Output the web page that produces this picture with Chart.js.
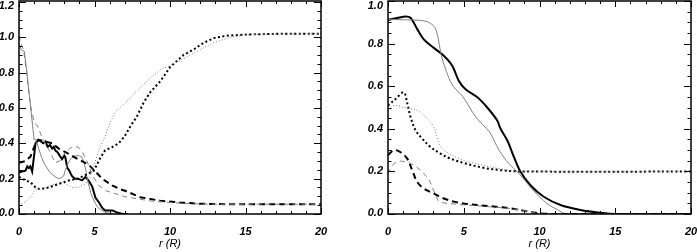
<!DOCTYPE html>
<html>
<head>
<meta charset="utf-8">
<script src="https://cdn.jsdelivr.net/npm/chart.js@4/dist/chart.umd.min.js"></script>
<style>
  body { margin: 0; background: #fff; }
  #wrap { position: relative; width: 697px; height: 252px; }
  canvas { position: absolute; top: 0; }
</style>
</head>
<body>
<div id="wrap">
  <canvas id="gauche" width="348" height="252" style="left:0px"></canvas>
  <canvas id="droite" width="349" height="252" style="left:348px"></canvas>
</div>
<script>
// ---- panneau de gauche : valeurs ----
var gSolideEpaisR = [0,0.2,0.43,0.55,0.65,0.75,0.87,1.0,1.09,1.27,1.45,1.6,1.75,1.9,2.05,2.19,2.3,2.4,2.55,2.7,2.85,3.0,3.07,3.2,3.3,3.5,3.7,3.9,4.18,4.4,4.6,4.85,5.06,5.3,5.5,5.7,6.0,6.2,6.5,6.85,7.2];
var gSolideEpaisV = [0.235,0.24,0.245,0.27,0.26,0.27,0.24,0.33,0.40,0.42,0.41,0.40,0.41,0.38,0.39,0.37,0.38,0.36,0.35,0.33,0.31,0.33,0.32,0.26,0.25,0.215,0.20,0.20,0.19,0.21,0.19,0.155,0.093,0.065,0.036,0.02,0.02,0.02,0.008,0.0,0.0];

var gSolideFinR = [0,0.15,0.35,0.5,0.7,0.9,1.0,1.15,1.3,1.5,1.7,1.86,2.0,2.19,2.4,2.63,2.8,2.96,3.07,3.2,3.4,3.6,3.84,4.0,4.18,4.3,4.4,4.5,4.6,4.75,4.85,5.06,5.2,5.4,5.7,6.0,6.3];
var gSolideFinV = [0.96,0.93,0.92,0.82,0.66,0.5,0.42,0.42,0.37,0.32,0.28,0.26,0.24,0.225,0.21,0.20,0.205,0.215,0.25,0.28,0.31,0.325,0.33,0.33,0.32,0.29,0.26,0.21,0.17,0.12,0.095,0.06,0.04,0.025,0.01,0.003,0];

var gTiretEpaisR = [0,0.43,0.76,1.1,1.3,1.75,2.2,2.63,3.3,3.9,4.6,5.06,5.5,6.2,6.7,7.06,8.03,9.35,10.67,12.0,13.0,15,20];
var gTiretEpaisV = [0.29,0.30,0.325,0.40,0.42,0.41,0.40,0.37,0.34,0.31,0.28,0.24,0.20,0.16,0.14,0.13,0.095,0.075,0.065,0.058,0.056,0.055,0.055];

var gTiretFinR = [0,0.15,0.3,0.5,0.75,1.0,1.2,1.53,2.0,2.4,2.7,3.07,3.5,3.9,4.2,4.5,4.85,5.3,5.8,6.2,7.06,8.7,10.0,11.0,12.66,15,20];
var gTiretFinV = [1.01,0.96,0.93,0.8,0.62,0.52,0.50,0.435,0.36,0.29,0.30,0.35,0.378,0.38,0.35,0.30,0.22,0.16,0.13,0.12,0.097,0.074,0.065,0.06,0.055,0.055,0.055];

var gPointEpaisR = [0,0.43,0.76,1.1,1.4,1.97,2.63,3.3,3.9,4.5,4.95,5.17,5.4,5.7,6.2,6.6,7.0,7.4,7.8,8.25,8.7,9.35,10.0,10.9,11.55,12.2,12.9,13.76,15.3,17.5,20];
var gPointEpaisV = [0.21,0.19,0.18,0.15,0.14,0.15,0.17,0.19,0.20,0.225,0.245,0.28,0.32,0.36,0.38,0.40,0.44,0.50,0.55,0.63,0.69,0.75,0.83,0.90,0.93,0.967,0.995,1.009,1.016,1.02,1.02];

var gPointFinR = [0,0.43,0.8,1.1,1.75,2.4,2.85,3.3,3.5,3.9,4.4,4.7,4.95,5.28,5.7,6.05,6.4,6.93,7.6,8.7,9.35,10.0,10.9,12.0,12.9,14.0,15.3,20];
var gPointFinV = [0.046,0.07,0.10,0.14,0.15,0.17,0.18,0.16,0.15,0.15,0.17,0.215,0.27,0.36,0.44,0.52,0.58,0.62,0.68,0.77,0.815,0.84,0.88,0.93,0.97,1.0,1.015,1.02];

// ---- panneau de droite ----
var dSolideEpaisR = [0,0.6,1.17,1.5,1.93,2.36,3.02,3.68,4.24,4.67,5.1,5.9,6.55,7.2,7.43,7.87,8.3,8.75,9.4,10.28,11.39,12.7,14.0,15.1,20];
var dSolideEpaisV = [0.911,0.92,0.927,0.92,0.868,0.82,0.78,0.743,0.696,0.626,0.587,0.548,0.50,0.44,0.40,0.346,0.27,0.198,0.135,0.081,0.042,0.019,0.006,0.0,0.0];

var dSolideFinR = [0,1.0,1.93,2.5,2.8,3.1,3.3,3.5,3.85,4.3,4.95,5.8,6.7,7.0,7.33,7.98,8.64,9.6,10.5,11.2,11.8,20];
var dSolideFinV = [0.914,0.912,0.91,0.905,0.895,0.875,0.83,0.75,0.67,0.60,0.55,0.455,0.385,0.345,0.30,0.236,0.19,0.11,0.049,0.02,0.0,0.0];

var dPointEpaisR = [0,0.5,1.04,1.27,1.49,1.82,2.26,2.8,3.47,4.13,5.12,6.3,7.4,8.5,10,20];
var dPointEpaisV = [0.509,0.54,0.571,0.52,0.455,0.393,0.354,0.315,0.283,0.26,0.237,0.217,0.206,0.2,0.199,0.199];

var dPointFinR = [0,0.4,1.04,1.93,2.6,3.0,3.3,3.5,4.13,5.0,6.3,7.4,8.5,10,20];
var dPointFinV = [0.494,0.51,0.50,0.486,0.447,0.41,0.345,0.315,0.28,0.252,0.229,0.213,0.202,0.2,0.2];

var dTiretEpaisR = [0,0.4,0.83,1.27,1.6,1.93,2.36,3.0,3.68,4.35,5.2,6.7,8.0,9.3,10,11,20];
var dTiretEpaisV = [0.276,0.30,0.29,0.26,0.205,0.15,0.12,0.097,0.073,0.058,0.047,0.037,0.027,0.011,0.003,0,0];

var dTiretFinR = [0,0.4,0.83,1.5,2.15,2.7,3.0,3.2,3.4,4.35,5.2,6.7,8.0,9.3,10,11,20];
var dTiretFinV = [0.19,0.237,0.248,0.237,0.205,0.16,0.112,0.08,0.058,0.047,0.042,0.034,0.026,0.011,0.0,0,0];

// graduations
var xMajeurs = [0, 5, 10, 15, 20];
var gYMajeurs = [0.0, 0.2, 0.4, 0.6, 0.8, 1.0, 1.2];
var dYMajeurs = [0.0, 0.2, 0.4, 0.6, 0.8, 1.0];
var titreX = "r (R)";

function points(rs, vs) {
  var res = [];
  rs.forEach(function (r, i) {
    res.push({ x: r, y: vs[i] });
  });
  return res;
}

function serie(rs, vs, epais, style, lisse) {
  var dash = [];
  if (style == "tiret") dash = epais ? [6, 4] : [5, 4];
  if (style == "point") dash = epais ? [2, 2.5] : [1, 2];
  return {
    data: points(rs, vs),
    borderColor: epais ? "#000000" : "#7f7f7f",
    borderWidth: epais ? 2 : 1,
    borderDash: dash,
    pointRadius: 0,
    fill: false,
    tension: lisse ? 0.35 : 0,
  };
}

// cadre, graduations vers l'interieur et etiquettes
var cadreIDL = {
  id: "cadreIDL",
  afterDatasetsDraw: function (chart, args, opts) {
    var ctx = chart.ctx;
    var a = chart.chartArea;
    var sx = chart.scales.x;
    var sy = chart.scales.y;
    ctx.save();
    ctx.strokeStyle = "#000";
    ctx.lineWidth = 1.5;
    ctx.strokeRect(a.left, a.top, a.right - a.left, a.bottom - a.top);

    ctx.lineWidth = 1;
    ctx.beginPath();
    for (var v = 0; v <= 20; v++) {
      var px = Math.round(sx.getPixelForValue(v)) + 0.5;
      var l = v % 5 == 0 ? 6 : 3;
      ctx.moveTo(px, a.bottom); ctx.lineTo(px, a.bottom - l);
      ctx.moveTo(px, a.top); ctx.lineTo(px, a.top + l);
    }
    var nb = Math.round(opts.ymax / 0.05);
    for (var k = 0; k <= nb; k++) {
      var py = Math.round(sy.getPixelForValue(k * 0.05)) + 0.5;
      var l2 = k % 4 == 0 ? 7 : 3.5;
      ctx.moveTo(a.left, py); ctx.lineTo(a.left + l2, py);
      ctx.moveTo(a.right, py); ctx.lineTo(a.right - l2, py);
    }
    ctx.stroke();

    ctx.fillStyle = "#000";
    ctx.font = "bold italic 11px 'Liberation Sans', Arial, sans-serif";
    ctx.textAlign = "center";
    ctx.textBaseline = "middle";
    xMajeurs.forEach(function (v) {
      ctx.fillText(String(v), sx.getPixelForValue(v), 232);
    });
    ctx.textAlign = "right";
    opts.majeurs.forEach(function (v) {
      var y = sy.getPixelForValue(v);
      y = Math.max(6, Math.min(a.bottom - 1, y));
      ctx.fillText(v.toFixed(1), a.left - 5, y);
    });
    ctx.textAlign = "center";
    ctx.font = "italic 11px 'Liberation Sans', Arial, sans-serif";
    ctx.fillText(titreX, (a.left + a.right) / 2, 244);
    ctx.restore();
  },
};

function creerGraphe(id, datasets, ymax, majeurs, pad) {
  var ctx = document.getElementById(id).getContext("2d");
  return new Chart(ctx, {
    type: "line",
    data: { datasets: datasets },
    options: {
      responsive: false,
      animation: false,
      devicePixelRatio: 1,
      layout: { padding: pad },
      scales: {
        x: { type: "linear", min: 0, max: 20, display: false },
        y: { type: "linear", min: 0, max: ymax, display: false },
      },
      plugins: {
        legend: { display: false },
        tooltip: { enabled: false },
        cadreIDL: { ymax: ymax, majeurs: majeurs },
      },
    },
    plugins: [cadreIDL],
  });
}

creerGraphe("gauche", [
  serie(gPointFinR, gPointFinV, false, "point", false),
  serie(gPointEpaisR, gPointEpaisV, true, "point", false),
  serie(gTiretFinR, gTiretFinV, false, "tiret", false),
  serie(gTiretEpaisR, gTiretEpaisV, true, "tiret", false),
  serie(gSolideFinR, gSolideFinV, false, "plein", false),
  serie(gSolideEpaisR, gSolideEpaisV, true, "plein", false),
], 1.205, gYMajeurs, { left: 19, right: 27, top: 1, bottom: 38 });

creerGraphe("droite", [
  serie(dPointFinR, dPointFinV, false, "point", true),
  serie(dPointEpaisR, dPointEpaisV, true, "point", true),
  serie(dTiretFinR, dTiretFinV, false, "tiret", true),
  serie(dTiretEpaisR, dTiretEpaisV, true, "tiret", true),
  serie(dSolideFinR, dSolideFinV, false, "plein", true),
  serie(dSolideEpaisR, dSolideEpaisV, true, "plein", true),
], 1.0, dYMajeurs, { left: 40, right: 6, top: 1, bottom: 38 });
</script>
</body>
</html>
